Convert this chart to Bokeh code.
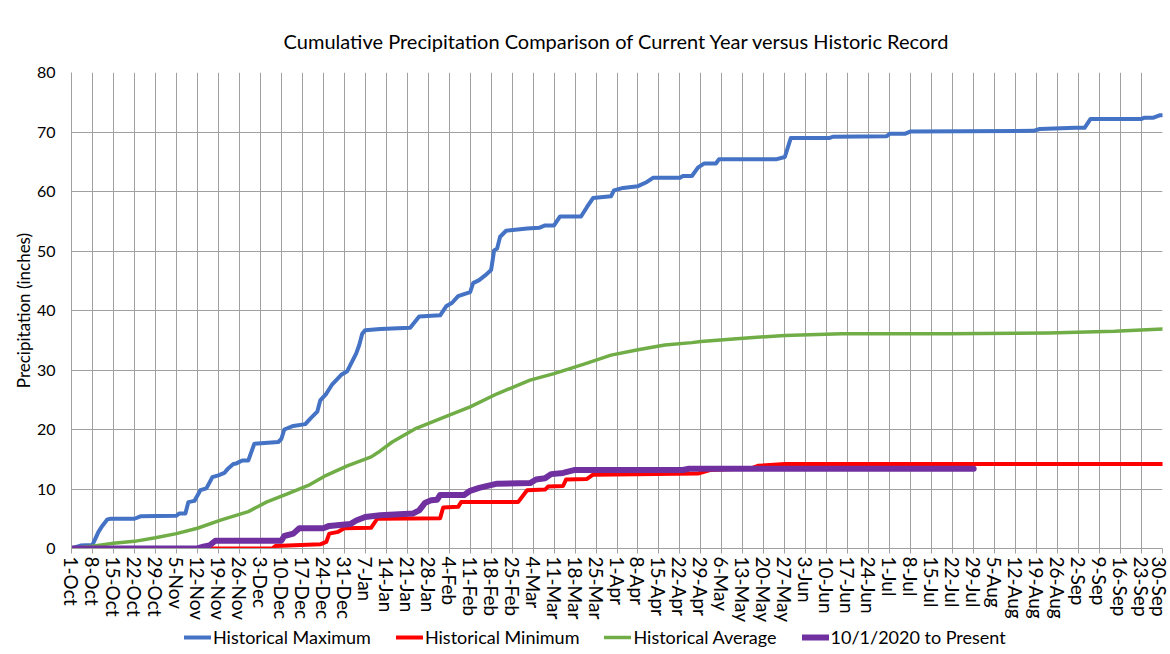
from bokeh.plotting import figure
from bokeh.layouts import column
from bokeh.models import Range1d, FixedTicker, Legend, LegendItem
from bokeh.embed import file_html
from bokeh.resources import INLINE

# ---- data (x = days since 1-Oct-2020, y = cumulative inches) ----
tick_labels = ["1-Oct", "8-Oct", "15-Oct", "22-Oct", "29-Oct", "5-Nov", "12-Nov", "19-Nov",
               "26-Nov", "3-Dec", "10-Dec", "17-Dec", "24-Dec", "31-Dec", "7-Jan", "14-Jan",
               "21-Jan", "28-Jan", "4-Feb", "11-Feb", "18-Feb", "25-Feb", "4-Mar", "11-Mar",
               "18-Mar", "25-Mar", "1-Apr", "8-Apr", "15-Apr", "22-Apr", "29-Apr", "6-May",
               "13-May", "20-May", "27-May", "3-Jun", "10-Jun", "17-Jun", "24-Jun", "1-Jul",
               "8-Jul", "15-Jul", "22-Jul", "29-Jul", "5-Aug", "12-Aug", "19-Aug", "26-Aug",
               "2-Sep", "9-Sep", "16-Sep", "23-Sep", "30-Sep"]
tick_days = [0, 7, 14, 21, 28, 35, 42, 49, 56, 63, 70, 77, 84, 91, 98, 105, 112, 119, 126,
             133, 140, 147, 154, 161, 168, 175, 182, 189, 196, 203, 210, 217, 224, 231, 238,
             245, 252, 259, 266, 273, 280, 287, 294, 301, 308, 315, 322, 329, 336, 343, 350,
             357, 364]

max_day = [0, 3, 7, 9, 10, 12, 13, 21, 23, 35, 36, 38, 39, 41, 43, 45, 47, 49, 51, 52, 54, 55,
           57, 59, 61, 69, 70, 71, 74, 78, 80, 82, 83, 85, 87, 90, 92, 95, 96, 97, 98, 103, 113,
           116, 123, 125, 127, 129, 133, 134, 136, 138, 140, 141, 142, 143, 145, 152, 156, 158,
           161, 163, 170, 172, 174, 180, 181, 184, 189, 192, 194, 203, 204, 207, 209, 211, 215,
           216, 235, 238, 240, 253, 254, 272, 273, 278, 280, 321, 323, 335, 338, 340, 357, 358,
           361, 363, 364]
max_val = [0, 0.5, 0.6, 2.8, 3.6, 4.9, 5.0, 5.0, 5.4, 5.5, 5.9, 5.9, 7.8, 8.0, 9.8, 10.1, 12.0,
           12.3, 12.7, 13.3, 14.2, 14.3, 14.8, 14.8, 17.6, 17.9, 18.4, 20.0, 20.6, 20.9, 22.0,
           23.0, 24.9, 26.0, 27.6, 29.2, 29.8, 32.8, 34.2, 36.1, 36.7, 36.9, 37.1, 39.0, 39.2,
           40.7, 41.3, 42.4, 43.1, 44.6, 45.1, 45.9, 46.8, 50.1, 50.4, 52.4, 53.4, 53.8, 53.9,
           54.3, 54.3, 55.8, 55.8, 57.4, 58.9, 59.2, 60.2, 60.6, 60.9, 61.6, 62.3, 62.3, 62.6,
           62.6, 64.0, 64.7, 64.7, 65.4, 65.4, 65.8, 69.0, 69.0, 69.2, 69.3, 69.7, 69.7, 70.1,
           70.2, 70.5, 70.7, 70.7, 72.2, 72.2, 72.4, 72.4, 72.8, 72.8]

min_day = [0, 67, 68, 83, 85, 86, 89, 91, 100, 102, 123, 124, 129, 130, 149, 152, 158, 159, 164,
           165, 172, 174, 209, 213, 227, 229, 238, 364]
min_val = [0, 0, 0.4, 0.7, 1.1, 2.5, 2.8, 3.4, 3.5, 5.0, 5.1, 6.9, 7.0, 7.8, 7.8, 9.8, 9.9, 10.4,
           10.5, 11.6, 11.7, 12.4, 12.6, 13.2, 13.5, 13.9, 14.2, 14.2]

avg_day = [0, 7, 14, 21, 28, 35, 42, 50, 59, 65, 72, 79, 85, 92, 100, 103, 107, 115, 125, 133,
           142, 153, 161, 171, 180, 189, 198, 207, 210, 223, 238, 257, 292, 326, 348, 364]
avg_val = [0, 0.4, 0.9, 1.2, 1.8, 2.5, 3.4, 4.8, 6.2, 7.8, 9.2, 10.6, 12.3, 13.9, 15.4, 16.4,
           17.9, 20.2, 22.2, 23.8, 26.0, 28.3, 29.4, 31.0, 32.5, 33.4, 34.2, 34.6, 34.8, 35.3,
           35.8, 36.1, 36.1, 36.2, 36.5, 36.9]

cur_day = [0, 42, 44, 46, 48, 70, 71, 74, 76, 84, 86, 93, 95, 98, 103, 114, 116, 118, 120, 122,
           123, 131, 133, 136, 142, 153, 155, 158, 160, 164, 168, 204, 206, 301]
cur_val = [0, 0, 0.3, 0.5, 1.3, 1.3, 2.1, 2.5, 3.4, 3.4, 3.8, 4.1, 4.7, 5.3, 5.6, 5.9, 6.4, 7.7,
           8.1, 8.2, 9.0, 9.0, 9.7, 10.2, 10.9, 11.0, 11.6, 11.8, 12.5, 12.7, 13.2, 13.2, 13.4,
           13.4]

series_names = ["Historical Maximum", "Historical Minimum", "Historical Average",
                "10/1/2020 to Present"]
series_colors = ["#4472C4", "#FF0000", "#70AD47", "#7030A0"]
series_widths = [4, 4, 3.5, 6]
series_x = [max_day, min_day, avg_day, cur_day]
series_y = [max_val, min_val, avg_val, cur_val]

FONT = "Lato"
GRID = "#A0A0A0"

p = figure(width=1170, height=628, output_backend="svg", toolbar_location=None,
           x_range=Range1d(0, 364), y_range=Range1d(0, 80),
           min_border_left=71, min_border_right=8, min_border_top=72, min_border_bottom=80,
           title="Cumulative Precipitation Comparison of Current Year versus Historic Record")

p.title.align = "center"
p.title.text_font = FONT
p.title.text_font_size = "20px"
p.title.text_font_style = "normal"
p.title.text_color = "#000000"
p.title.standoff = 40

p.outline_line_color = None
p.background_fill_color = "white"

# x axis
p.xaxis.ticker = FixedTicker(ticks=tick_days)
p.xaxis.major_label_overrides = {d: l for d, l in zip(tick_days, tick_labels)}
p.xaxis.major_label_orientation = "vertical"
p.xaxis.major_label_text_font = FONT
p.xaxis.major_label_text_font_size = "19px"
p.xaxis.major_label_text_color = "#000000"
p.xaxis.major_label_standoff = 3
p.xaxis.major_tick_out = 5
p.xaxis.major_tick_in = 0
p.xaxis.minor_tick_line_color = None
p.xaxis.major_tick_line_color = GRID
p.xaxis.axis_line_color = GRID

# y axis
p.yaxis.ticker = FixedTicker(ticks=[0, 10, 20, 30, 40, 50, 60, 70, 80])
p.yaxis.major_label_text_font = FONT
p.yaxis.major_label_text_font_size = "16px"
p.yaxis.major_label_text_color = "#000000"
p.yaxis.major_tick_out = 0
p.yaxis.major_tick_in = 0
p.yaxis.minor_tick_line_color = None
p.yaxis.major_label_standoff = 16
p.yaxis.axis_line_color = GRID
p.yaxis.axis_label = "Precipitation (inches)"
p.yaxis.axis_label_text_font = FONT
p.yaxis.axis_label_text_font_size = "17px"
p.yaxis.axis_label_text_font_style = "normal"
p.yaxis.axis_label_text_color = "#000000"
p.yaxis.axis_label_standoff = 0

p.xgrid.ticker = FixedTicker(ticks=tick_days)
p.xgrid.grid_line_color = GRID
p.ygrid.grid_line_color = GRID

for xs, ys, c, w in zip(series_x, series_y, series_colors, series_widths):
    p.line(xs, ys, line_color=c, line_width=w, line_join="round", line_cap="round")

# legend strip below the chart (same series, drawn out of view so only the key shows)
lg = figure(width=1170, height=26, output_backend="svg", toolbar_location=None,
            x_range=Range1d(1000, 1001), y_range=Range1d(1000, 1001),
            x_axis_type=None, y_axis_type=None,
            min_border_left=0, min_border_right=0, min_border_top=0, min_border_bottom=0)
lg.outline_line_color = None
lg.grid.visible = False
items = []
for xs, ys, c, w, n in zip(series_x, series_y, series_colors, series_widths, series_names):
    r = lg.line(xs, ys, line_color=c, line_width=w, line_cap="round")
    items.append(LegendItem(label=n, renderers=[r]))

legend = Legend(items=items, orientation="horizontal", location=(113, 6))
legend.label_text_font = FONT
legend.label_text_font_size = "18px"
legend.label_text_color = "#000000"
legend.glyph_width = 27
legend.glyph_height = 20
legend.label_height = 20
legend.label_standoff = 2
legend.spacing = 25
legend.padding = 0
legend.margin = 0
legend.border_line_color = None
legend.background_fill_alpha = 0
lg.add_layout(legend, "center")

layout = column(p, lg, spacing=0)
open("out.html", "w").write(file_html(layout, INLINE))
